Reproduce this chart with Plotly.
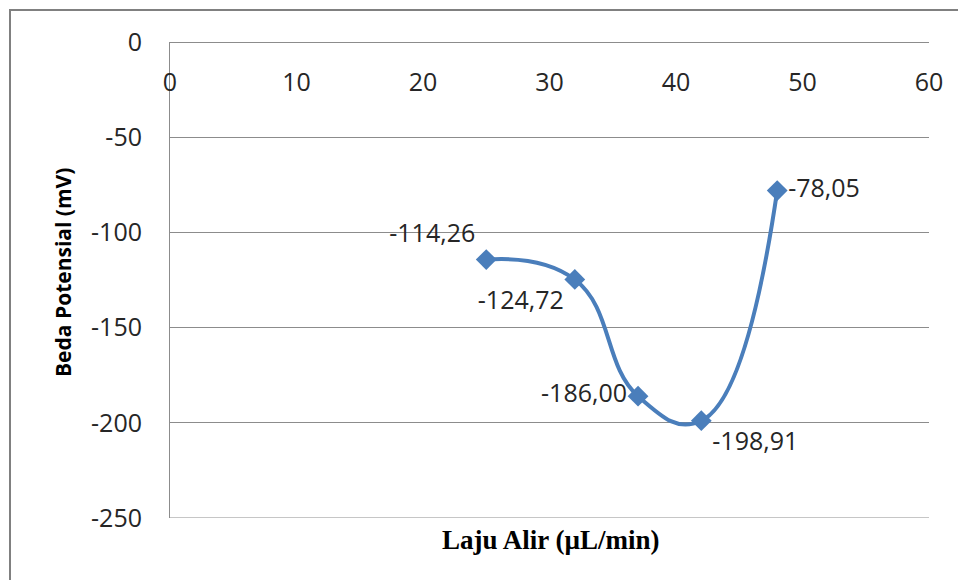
import plotly.graph_objects as go

flow_rate = [25, 32, 37, 42, 48]
potential = [-114.26, -124.72, -186.00, -198.91, -78.05]
label_pos = ["top left", "bottom left", "middle left", "bottom right", "middle right"]
x_ticks = [0, 10, 20, 30, 40, 50, 60]
y_ticks = [0, -50, -100, -150, -200, -250]

W, H = 958, 580
L, R, T, B = 170, 29, 42, 62
pw, ph = W - L - R, H - T - B

def px(x):
    return (x - L) / pw

def py(y):
    return 1 - (y - T) / ph

labels = [f"{v:.2f}".replace(".", ",") for v in potential]
y_tick_text = [str(v) for v in y_ticks]
blue = "#4A7EBB"
grid = "#8C8C8C"
txt = "#262626"

fig = go.Figure()
fig.add_trace(go.Scatter(
    x=flow_rate, y=potential, mode="lines+markers+text",
    line=dict(color=blue, width=4, shape="spline", smoothing=1.3),
    marker=dict(symbol="diamond", size=16, color=blue),
    text=labels, textposition=label_pos,
    textfont=dict(family="Open Sans", size=25, color=txt),
    cliponaxis=False, showlegend=False,
))

fig.update_layout(
    width=W, height=H,
    margin=dict(l=L, r=R, t=T, b=B),
    paper_bgcolor="white", plot_bgcolor="white",
    xaxis=dict(
        range=[0, 60], tickvals=x_ticks, anchor="free", position=1, side="bottom",
        showgrid=False, zeroline=False, showline=False, ticks="",
        ticklabelstandoff=23,
        tickfont=dict(family="Open Sans", size=25, color=txt),
    ),
    yaxis=dict(
        range=[-250, 0], tickvals=y_ticks, ticktext=y_tick_text,
        showgrid=True, gridcolor=grid, gridwidth=1,
        zeroline=True, zerolinecolor=grid, zerolinewidth=1,
        showline=True, linecolor=grid, linewidth=1, ticks="",
        ticklabelstandoff=22,
        tickfont=dict(family="Open Sans", size=25, color=txt),
    ),
    annotations=[
        dict(text="<b>Beda Potensial (mV)</b>", xref="paper", yref="paper",
             x=px(63), y=py(273), xanchor="center", yanchor="middle",
             textangle=-90, showarrow=False,
             font=dict(family="Open Sans", size=21, color="#000000")),
        dict(text="<b>Laju Alir (µL/min)</b>", xref="paper", yref="paper",
             x=px(551), y=py(540), xanchor="center", yanchor="middle",
             showarrow=False,
             font=dict(family="Liberation Serif", size=27, color="#000000")),
    ],
    shapes=[
        dict(type="line", xref="paper", yref="paper", x0=px(10), x1=px(10), y0=py(9), y1=py(582),
             line=dict(color="#808080", width=2)),
        dict(type="line", xref="paper", yref="paper", x0=px(9), x1=px(960), y0=py(10), y1=py(10),
             line=dict(color="#808080", width=2)),
        dict(type="line", xref="x", yref="y", x0=0, x1=60, y0=-250, y1=-250,
             line=dict(color=grid, width=1), layer="below"),
    ],
)

fig.write_html("out.html")
